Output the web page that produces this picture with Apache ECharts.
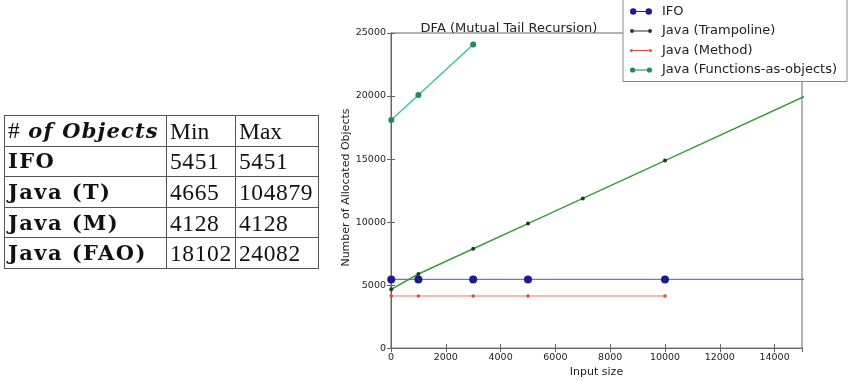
<!DOCTYPE html>
<html>
<head>
<meta charset="utf-8">
<script src="https://cdn.jsdelivr.net/npm/echarts@6/dist/echarts.min.js"></script>
<style>
  html, body { margin: 0; padding: 0; background: #fff; }
  #wrap { position: relative; width: 851px; height: 383px; overflow: hidden; }
  #chart { position: absolute; left: 0; top: 0; width: 851px; height: 383px; }
  #tbl { position: absolute; left: 4px; top: 115px; border-collapse: collapse; z-index: 2;
         font-family: "Liberation Serif", "DejaVu Serif", serif; font-size: 23.5px; color: #111; }
  #tbl td { border: 1px solid #555; padding: 0 0 0 3px; height: 29.6px; line-height: 26px; white-space: nowrap; }
  #tbl td.num { letter-spacing: 0.6px; }
  #tbl td.lab { font-family: "DejaVu Serif", serif; font-size: 21px; font-weight: bold; letter-spacing: 1.4px; }
  #tbl .bi { font-family: "DejaVu Serif", serif; font-size: 21px; font-weight: bold; font-style: italic; letter-spacing: 1.2px; }
</style>
</head>
<body>
<div id="wrap">
  <div id="chart"></div>
  <table id="tbl"></table>
</div>
<script>
// ---- table data ----
const tableHeader = ['# of Objects', 'Min', 'Max'];
const rowLabels = ['IFO', 'Java (T)', 'Java (M)', 'Java (FAO)'];
const minValues = [5451, 4665, 4128, 18102];
const maxValues = [5451, 104879, 4128, 24082];

// ---- chart data ----
const chartTitle = 'DFA (Mutual Tail Recursion)';
const seriesNames = ['IFO', 'Java (Trampoline)', 'Java (Method)', 'Java (Functions-as-objects)'];
const ifoSizes = [10, 1000, 3000, 5000, 10000, 100000];
const ifoValues = [5451, 5451, 5451, 5451, 5451, 5451];
const trampolineSizes = [10, 1000, 3000, 5000, 7000, 10000, 100000];
const trampolineValues = [4665, 5879, 7879, 9879, 11879, 14879, 104879];
const methodSizes = [10, 1000, 3000, 5000, 10000];
const methodValues = [4128, 4128, 4128, 4128, 4128];
const faoSizes = [10, 1000, 3000];
const faoValues = [18102, 20082, 24082];
const xTicks = [0, 2000, 4000, 6000, 8000, 10000, 12000, 14000];
const yTicks = [0, 5000, 10000, 15000, 20000, 25000];

// build table
const tbl = document.getElementById('tbl');
const colW = [162, 69, 83];
let html = '<tr>';
html += '<td style="width:' + (colW[0]-4) + 'px">#<span class="bi"> ' + tableHeader[0].slice(2) + '</span></td>';
html += '<td style="width:' + (colW[1]-4) + 'px">' + tableHeader[1] + '</td>';
html += '<td style="width:' + (colW[2]-4) + 'px">' + tableHeader[2] + '</td></tr>';
rowLabels.forEach((l, i) => {
  html += '<tr><td class="lab">' + l + '</td><td class="num">' + minValues[i] + '</td><td class="num">' + maxValues[i] + '</td></tr>';
});
tbl.innerHTML = html;

const pair = (xs, ys) => xs.map((x, i) => [x, ys[i]]);
const legendPath = (r) => 'path://M0,6a' + r + ',' + r + ' 0 1,0 ' + (2*r) + ',0a' + r + ',' + r + ' 0 1,0 ' + (-2*r) + ',0Z' +
  'M' + (22-2*r) + ',6a' + r + ',' + r + ' 0 1,0 ' + (2*r) + ',0a' + r + ',' + r + ' 0 1,0 ' + (-2*r) + ',0Z' +
  'M' + (2*r) + ',5.5h' + (22-4*r) + 'v1h' + (-(22-4*r)) + 'Z';

const font = 'DejaVu Sans';
const plain = v => String(v);
const chart = echarts.init(document.getElementById('chart'), null, { renderer: 'canvas' });
const axisCommon = {
  axisLine: { show: true, lineStyle: { color: '#666', width: 1 } },
  axisTick: { show: true, inside: true, length: 4, lineStyle: { color: '#666' } },
  splitLine: { show: false }
};
chart.setOption({
  animation: false,
  backgroundColor: 'transparent',
  title: {
    text: chartTitle, left: 504, top: 17, textAlign: 'center',
    textStyle: { fontFamily: font, fontSize: 13, fontWeight: 'normal', color: '#222' }
  },
  legend: {
    data: seriesNames.map((n, i) => ({ name: n, icon: legendPath([3.2, 2, 1.5, 2.6][i]) })),
    orient: 'vertical', left: 623, top: -3, width: 224,
    padding: [8, 10, 5, 7],
    itemWidth: 22, itemHeight: 12, itemGap: 6.5,
    backgroundColor: '#fff', borderColor: '#888', borderWidth: 1,
    textStyle: { fontFamily: font, fontSize: 13, color: '#222', padding: [0, 0, 0, 5] }
  },
  grid: { left: 391, right: 49, top: 33, bottom: 32, show: true, borderColor: '#666', borderWidth: 1 },
  xAxis: [{
    type: 'value', min: 0, max: 15000, interval: 2000,
    name: 'Input size', nameLocation: 'middle', nameGap: 16,
    nameTextStyle: { fontFamily: font, fontSize: 11, color: '#222' },
    axisLabel: { fontFamily: font, fontSize: 9.5, color: '#222', margin: 4, showMaxLabel: false, formatter: plain },
    ...axisCommon
  }, {
    type: 'value', min: 0, max: 15000, interval: 2000, position: 'top',
    axisLabel: { show: false }, ...axisCommon
  }],
  yAxis: [{
    type: 'value', min: 0, max: 25000, interval: 5000,
    name: 'Number of Allocated Objects', nameLocation: 'middle', nameGap: 38,
    nameTextStyle: { fontFamily: font, fontSize: 11, color: '#222', padding: [0, 0, 0, 6] },
    axisLabel: { fontFamily: font, fontSize: 9.5, color: '#222', margin: 5, formatter: plain },
    ...axisCommon
  }, {
    type: 'value', min: 0, max: 25000, interval: 5000, position: 'right',
    axisLabel: { show: false }, ...axisCommon
  }],
  series: [
    {
      name: seriesNames[0], type: 'line', data: pair(ifoSizes, ifoValues),
      symbol: 'circle', symbolSize: 8, clip: true,
      lineStyle: { color: '#7070e0', width: 1.3 },
      itemStyle: { color: '#1c1c8c' }
    },
    {
      name: seriesNames[1], type: 'line', data: pair(trampolineSizes, trampolineValues),
      symbol: 'circle', symbolSize: 4, clip: true,
      lineStyle: { color: '#3f9a3f', width: 1.5 },
      itemStyle: { color: '#1f3a1f' }
    },
    {
      name: seriesNames[2], type: 'line', data: pair(methodSizes, methodValues),
      symbol: 'circle', symbolSize: 3.5, clip: true,
      lineStyle: { color: '#f5a0a0', width: 1.5 },
      itemStyle: { color: '#d84a3a' }
    },
    {
      name: seriesNames[3], type: 'line', data: pair(faoSizes, faoValues),
      symbol: 'circle', symbolSize: 6, clip: true,
      lineStyle: { color: '#3cc4a0', width: 1.5 },
      itemStyle: { color: '#1f8a5a' }
    }
  ]
});
</script>
</body>
</html>
